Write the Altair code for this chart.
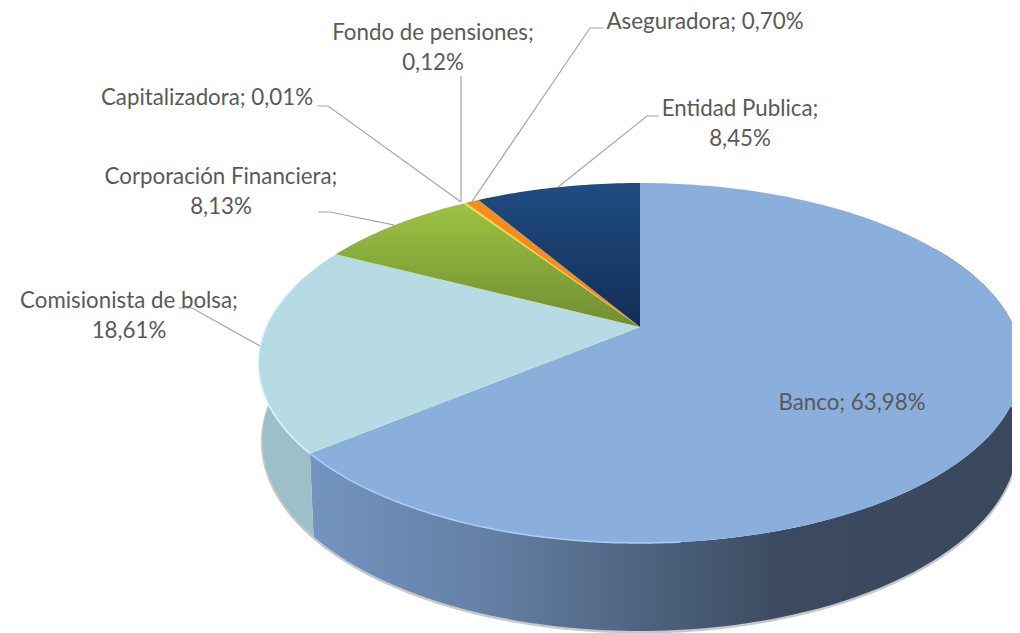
import math
import altair as alt
import pandas as pd

# ---- data
categories = ["Banco", "Comisionista de bolsa", "Corporación Financiera", "Capitalizadora",
              "Fondo de pensiones", "Aseguradora", "Entidad Publica"]
shares = [63.98, 18.61, 8.13, 0.01, 0.12, 0.70, 8.45]

# ---- layout of the picture
W, H = 1004, 625
APEX_X, APEX_Y = 640, 327
A, B, PERSP = 374, 172.8, 0.2
BOTTOM_Y, BOTTOM_A, BOTTOM_B = 403, 370, 182.4
TEXT = "#595959"
LEADER = "#a6a6a6"
FONT = "Lato"
FONT_SIZE = 22.3

label_lines = {
    "Banco": [(852, 403, "Banco; 63,98%")],
    "Comisionista de bolsa": [(129, 301, "Comisionista de bolsa;"), (129, 331, "18,61%")],
    "Corporación Financiera": [(221, 177, "Corporación Financiera;"), (221, 207, "8,13%")],
    "Capitalizadora": [(207, 98, "Capitalizadora; 0,01%")],
    "Fondo de pensiones": [(433, 33, "Fondo de pensiones;"), (433, 63, "0,12%")],
    "Aseguradora": [(705, 22, "Aseguradora; 0,70%")],
    "Entidad Publica": [(740, 109, "Entidad Publica;"), (740, 139, "8,45%")],
}
leader_paths = {
    "Comisionista de bolsa": [(178, 308), (192, 308)],
    "Corporación Financiera": [(318, 212), (330, 212)],
    "Capitalizadora": [(317, 106), (328, 106), (461, 202)],
    "Fondo de pensiones": [(461, 76), (461, 202)],
    "Aseguradora": [(603, 28), (590, 28)],
    "Entidad Publica": [(659, 116), (647, 116)],
}

x_enc = alt.X("x:Q", scale=alt.Scale(domain=[8, 8 + W], nice=False, zero=False), axis=None)
y_enc = alt.Y("y:Q", scale=alt.Scale(domain=[8 + H, 8], nice=False, zero=False), axis=None)


def rim(t_deg, bottom=False):
    t = math.radians(t_deg)
    u, v = math.sin(t), math.cos(t)
    w = 1 + PERSP * v
    if bottom:
        return APEX_X + BOTTOM_A * u / w, BOTTOM_Y + BOTTOM_B * (-v) / w
    return APEX_X + A * u / w, APEX_Y + B * (-v) / w


def sweep(a, b, n=90, bottom=False):
    return [rim(a + (b - a) * i / n, bottom) for i in range(n + 1)]


def frame(points):
    return pd.DataFrame([{"x": p[0], "y": p[1], "i": i} for i, p in enumerate(points)])


def gradient(stops, vertical=False):
    return alt.LinearGradient(
        gradient="linear", x1=0, y1=0, x2=0 if vertical else 1, y2=1 if vertical else 0,
        stops=[alt.GradientStop(offset=o, color=c) for o, c in stops],
    )


def poly(points, fill):
    return alt.Chart(frame(points)).mark_line(fill=fill, strokeWidth=0, interpolate="linear").encode(
        x=x_enc, y=y_enc, order="i:Q")


def line(points, color, width=1.0, opacity=1.0):
    return alt.Chart(frame(points)).mark_line(
        color=color, strokeWidth=width, opacity=opacity, interpolate="linear").encode(
        x=x_enc, y=y_enc, order="i:Q")


# angles of the slices, clockwise from the top
edges = [0.0]
for s in shares:
    edges.append(edges[-1] + s * 3.6)
start = dict(zip(categories, edges[:-1]))
end = dict(zip(categories, edges[1:]))

top_fill = {
    "Banco": "#8bafdd",
    "Comisionista de bolsa": "#b6dbe5",
    "Corporación Financiera": gradient([(0, "#9dc343"), (1, "#6f8e32")], vertical=True),
    "Capitalizadora": "#d9d92b",
    "Fondo de pensiones": "#e2e02c",
    "Aseguradora": "#f58c20",
    "Entidad Publica": gradient([(0, "#1f4c82"), (1, "#132e56")], vertical=True),
}

layers = []

# soft shadow under the wall
layers.append(line([(x, y + 1) for x, y in sweep(70, 285, bottom=True)], "#9a9a9a", 3, 0.55))

# walls
banco_end = end["Banco"]
layers.append(poly(sweep(60, banco_end) + sweep(banco_end, 60, bottom=True),
                   gradient([(0, "#7394c0"), (0.26, "#637fa3"), (0.46, "#4f6480"),
                             (0.67, "#3b4a5f"), (1, "#3a485c")])))
layers.append(poly(sweep(banco_end, 285) + sweep(285, banco_end, bottom=True), "#9dc0c8"))

# top face
for c in categories:
    pts = [(APEX_X, APEX_Y)] + sweep(start[c], end[c], n=max(2, int(end[c] - start[c])))
    layers.append(poly(pts, top_fill[c]))

# highlights along the rim
layers.append(line(sweep(banco_end, 285), "#dcf6ff", 1.5))
layers.append(line(sweep(175, banco_end), "#aecdf6", 1.5))

# leader lines run from their labels to the middle of the slice's arc, unless they are complete
for c, path in leader_paths.items():
    tail = [] if len(path) == 3 or c == "Fondo de pensiones" else [rim((start[c] + end[c]) / 2)]
    layers.append(line(path + tail, LEADER, 1.2))

# labels
rows = [{"x": x, "y": y, "t": t} for lines in label_lines.values() for x, y, t in lines]
layers.append(alt.Chart(pd.DataFrame(rows)).mark_text(
    font=FONT, fontSize=FONT_SIZE, color=TEXT, align="center", baseline="middle").encode(
    x=x_enc, y=y_enc, text="t:N"))

chart = alt.layer(*layers).properties(
    width=W, height=H, padding=0, autosize=alt.AutoSizeParams(type="none"), background="white"
).configure_view(stroke=None)

chart.save("out.html", embed_options={"renderer": "svg", "actions": False})
